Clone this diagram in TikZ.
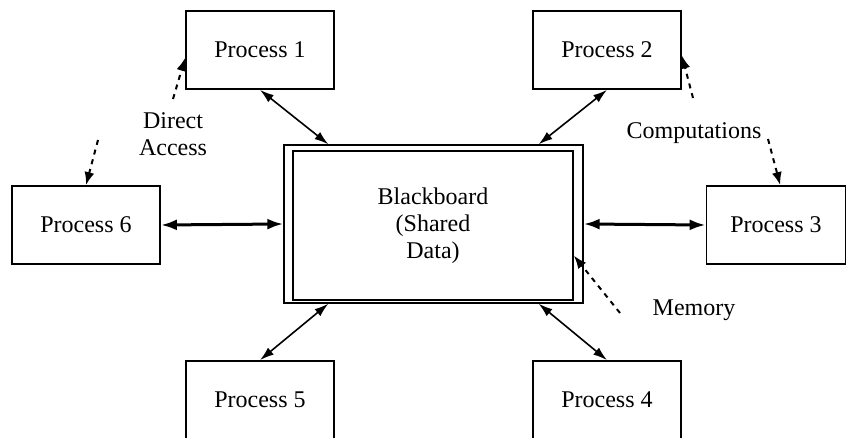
\documentclass[tikz,border=0pt]{standalone}
\usepackage{fontspec}
\setmainfont{Liberation Serif}
\usetikzlibrary{arrows.meta,calc}

\begin{document}
\begin{tikzpicture}[x=1pt,y=-1pt,
    proc/.style={draw, line width=1.8pt, minimum width=148pt, minimum height=78pt, inner sep=0pt, font=\fontsize{24}{27}\selectfont},
    txt/.style={align=center, inner sep=0pt, font=\fontsize{24}{27}\selectfont},
    link/.style={{Latex[length=14pt,width=9pt]}-{Latex[length=14pt,width=9pt]}, line width=1.6pt},
    wide/.style={{Latex[length=16pt,width=11pt]}-{Latex[length=16pt,width=11pt]}, line width=3pt},
    note/.style={-{Latex[length=13pt,width=10pt]}, line width=2pt, dash pattern=on 5pt off 5pt}]
    \useasboundingbox (0,0) rectangle (847,438);

    \node[proc] (p1) at (260,50) {Process 1};
    \node[proc] (p2) at (607,50) {Process 2};
    \node[proc, minimum width=139pt] (p3) at (776,225) {Process 3};
    \node[proc] (p4) at (607,400) {Process 4};
    \node[proc] (p5) at (260,400) {Process 5};
    \node[proc] (p6) at (86,225) {Process 6};

    \node[draw, line width=1.4pt, minimum width=299pt, minimum height=158pt] (bbo) at (433.5,224) {};
    \node[draw, line width=1.8pt, minimum width=280pt, minimum height=149pt, txt] (bb) at (433,225.5) {Blackboard\\(Shared\\Data)};

    \node[txt] (access) at (173,134) {Direct\\Access};
    \node[txt] (comp) at (694,133) {Computations};
    \node[txt] (mem) at (694,310) {Memory};

    \coordinate (a1) at (173,99);
    \coordinate (a6) at (98,140);
    \coordinate (c2) at (693,98);
    \coordinate (c3) at (768,139);
    \coordinate (m0) at (620,313);

    \draw[link] (p1.south) -- ($(bbo.north west)!0.15!(bbo.north east)$);
    \draw[link] (p2.south) -- ($(bbo.north west)!0.85!(bbo.north east)$);
    \draw[wide] (p6.east) -- (bbo.west);
    \draw[wide] (bbo.east) -- (p3.west);
    \draw[link] ($(bbo.south west)!0.85!(bbo.south east)$) -- (p4.north);
    \draw[link] ($(bbo.south west)!0.15!(bbo.south east)$) -- (p5.north);

    \draw[note] (a1) -- ($(p1.south west)!0.4!(p1.north west)$);
    \draw[note] (a6) -- (p6.north);
    \draw[note] (c2) -- ($(p2.south east)!0.43!(p2.north east)$);
    \draw[note] (c3) -- ($(p3.north west)!0.53!(p3.north east)$);
    \draw[note] (m0) -- ($(bb.south east)!0.3!(bb.north east)$);
\end{tikzpicture}
\end{document}
